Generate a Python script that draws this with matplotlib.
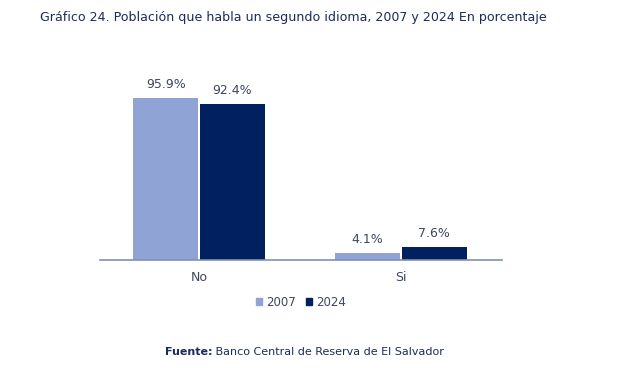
import numpy as np
import matplotlib.pyplot as plt
from matplotlib.patches import Patch

categorias = ["No", "Si"]
anios = ["2007", "2024"]
v2007 = [95.9, 4.1]
v2024 = [92.4, 7.6]

c_claro = "#8fa3d4"
c_oscuro = "#012060"
c_texto = "#3c4660"
c_titulo = "#1c2a5e"

fig = plt.figure(figsize=(6.39, 3.84), dpi=100)
ax = fig.add_axes([0.1565, 0.3229, 0.629, 0.440])

x = np.arange(len(categorias))
w = 0.32
b1 = ax.bar(x - 0.165, v2007, w, color=c_claro, label=anios[0])
b2 = ax.bar(x + 0.165, v2024, w, color=c_oscuro, label=anios[1])

for bars, vals in [(b1, v2007), (b2, v2024)]:
    for r, v in zip(bars, vals):
        ax.text(r.get_x() + r.get_width() / 2, v + 4, f"{v:.1f}%",
                ha="center", va="bottom", fontsize=9, color=c_texto)

ax.set_xlim(-0.49, 1.5)
ax.set_ylim(0, 100)
ax.set_xticks(x)
ax.set_xticklabels(categorias, fontsize=9, color=c_texto)
ax.tick_params(axis="x", length=0, pad=8)
ax.set_yticks([])
for s in ["top", "right", "left"]:
    ax.spines[s].set_visible(False)
ax.spines["bottom"].set_color("#8090b8")
ax.spines["bottom"].set_linewidth(1.2)

ax.legend(handles=[Patch(color=c_claro, label=anios[0]), Patch(color=c_oscuro, label=anios[1])],
          loc="upper center", bbox_to_anchor=(0.5, -0.15), ncol=2, frameon=False,
          fontsize=8.5, handlelength=0.5, handleheight=0.5, handletextpad=0.4,
          columnspacing=0.8, labelcolor=c_texto)

fig.text(40 / 639, 1 - 18 / 384, "Gráfico 24. Población que habla un segundo idioma, 2007 y 2024 En porcentaje",
         fontsize=9.1, color=c_titulo, va="center", ha="left")
t1 = fig.text(165 / 639, 1 - 352 / 384, "Fuente:", fontsize=8, color=c_titulo,
              fontweight="bold", va="center", ha="left")
ax.annotate(" Banco Central de Reserva de El Salvador", xy=(1, 0.5), xycoords=t1,
            fontsize=8, color=c_titulo, va="center", ha="left")

fig.savefig("out.png", dpi=100)
